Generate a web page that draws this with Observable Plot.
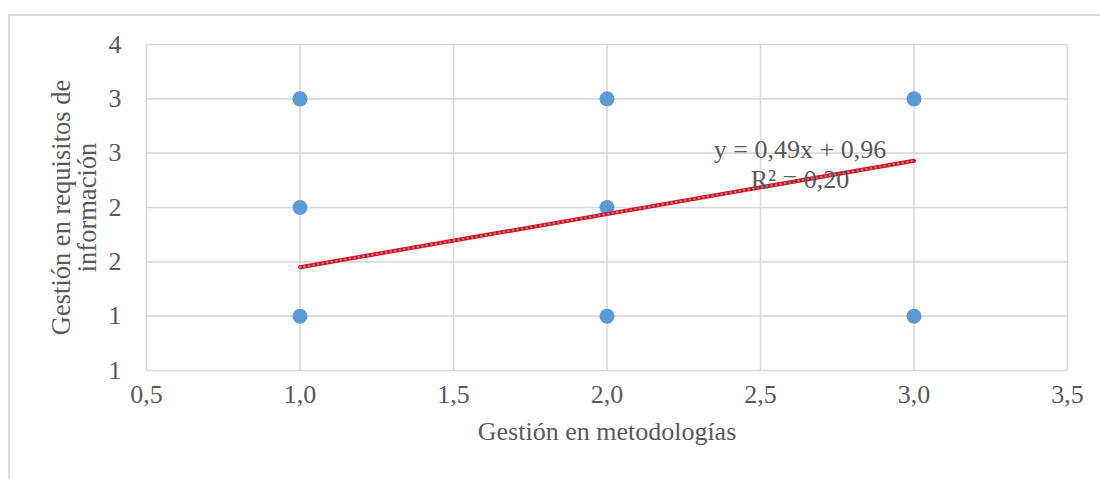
<!DOCTYPE html>
<html>
<head>
<meta charset="utf-8">
<script src="https://cdn.jsdelivr.net/npm/d3@7"></script>
<script src="https://cdn.jsdelivr.net/npm/@observablehq/plot@0.6"></script>
<style>
  html, body { margin: 0; padding: 0; background: #fff; }
  #wrap { position: relative; width: 1100px; height: 479px; overflow: hidden; }
  #border { position: absolute; left: 8px; top: 14px; width: 1200px; height: 600px; border: 2px solid #d9d9d9; box-sizing: border-box; }
  #chart { position: absolute; left: 0; top: 0; }
</style>
</head>
<body>
<div id="wrap"><div id="border"></div><div id="chart"></div></div>
<script>
// Data
const metodologias = [1, 1, 1, 2, 2, 2, 3, 3];
const requisitos   = [3, 2, 1, 3, 2, 1, 3, 1];
// Trendline endpoints (from the Excel linear trendline y = 0,49x + 0,96)
const trendX = [1, 3];
const trendY = [1.45, 2.43];
const equationText = "y = 0,49x + 0,96\nR² = 0,20";
const xTicks = [0.5, 1.0, 1.5, 2.0, 2.5, 3.0, 3.5];
const yTicks = [0.5, 1.0, 1.5, 2.0, 2.5, 3.0, 3.5];
const xTitle = "Gestión en metodologías";
const yTitle = "Gestión en requisitos de\ninformación";

const points = metodologias.map((x, i) => ({x, y: requisitos[i]}));
const trend = trendX.map((x, i) => ({x, y: trendY[i]}));

const font = "'Liberation Serif', 'Times New Roman', serif";
const textColor = "#595959";
const grid = "#d9d9d9";
const blue = "#5b9bd5";

const xFmt = v => d3.format(".1f")(v).replace(".", ",");
const yFmt = v => String(Math.round(v));

const chart = Plot.plot({
  width: 1100,
  height: 479,
  marginLeft: 146,
  marginRight: 33,
  marginTop: 44,
  marginBottom: 109,
  style: {fontFamily: font, background: "transparent"},
  x: {domain: [0.5, 3.5], axis: null},
  y: {domain: [0.5, 3.5], axis: null},
  marks: [
    Plot.gridX(xTicks, {stroke: grid, strokeOpacity: 1, strokeWidth: 1.6}),
    Plot.gridY(yTicks, {stroke: grid, strokeOpacity: 1, strokeWidth: 1.6}),
    Plot.text(xTicks, {x: d => d, frameAnchor: "bottom", text: xFmt, dy: 32, fontSize: 26, fontFamily: font, fill: textColor}),
    Plot.text(yTicks, {y: d => d, frameAnchor: "left", text: yFmt, textAnchor: "end", dx: -25, fontSize: 26, fontFamily: font, fill: textColor}),
    Plot.text([xTitle], {frameAnchor: "bottom", text: d => d, dy: 69, fontSize: 26, fontFamily: font, fill: textColor}),
    Plot.text([yTitle], {frameAnchor: "left", textAnchor: "middle", text: d => d, rotate: -90, dx: -72, dy: 0, fontSize: 26.5, fontFamily: font, lineHeight: 1.0, fill: textColor}),
    Plot.dot(points, {x: "x", y: "y", r: 7.5, fill: blue, stroke: "none"}),
    Plot.line(trend, {x: "x", y: "y", stroke: "#ff0000", strokeWidth: 4}),
    Plot.line(trend, {x: "x", y: "y", stroke: blue, strokeWidth: 2.4, strokeDasharray: "0.1 4.5", strokeLinecap: "round"}),
    Plot.text(trend.slice(-1), {x: "x", y: "y", text: () => equationText, dx: -114, dy: 3, fontSize: 26, fontFamily: font, lineHeight: 1.15, fill: textColor})
  ]
});
document.getElementById("chart").appendChild(chart);
</script>
</body>
</html>
